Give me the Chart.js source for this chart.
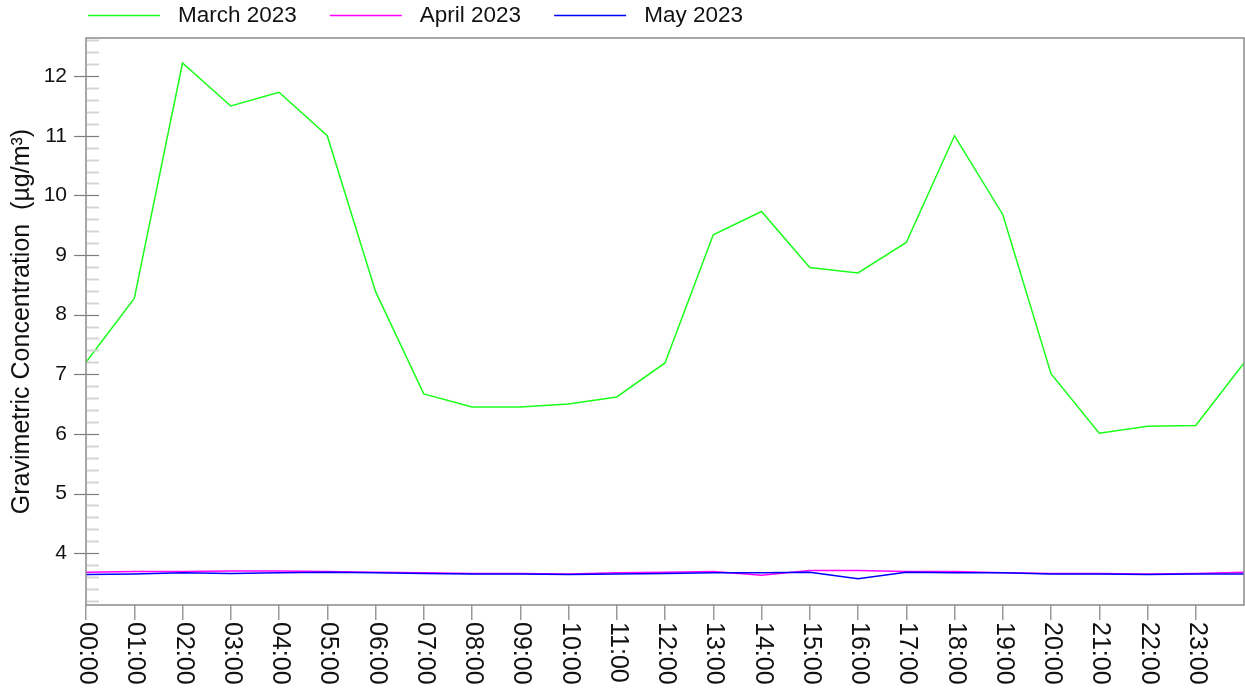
<!DOCTYPE html>
<html>
<head>
<meta charset="utf-8">
<script src="https://cdn.jsdelivr.net/npm/chart.js@4"></script>
<style>
  body { margin: 0; background: #fff; }
  canvas { display: block; }
</style>
</head>
<body>
<canvas id="myChart" width="1245" height="690"></canvas>
<script>
// hourly profile, last point wraps round to 00:00
const hourPos = [0, 1, 2, 3, 4, 5, 6, 7, 8, 9, 10, 11, 12, 13, 14, 15, 16, 17, 18, 19, 20, 21, 22, 23, 24];
const hourLabels = ["00:00", "01:00", "02:00", "03:00", "04:00", "05:00", "06:00", "07:00", "08:00", "09:00", "10:00", "11:00",
  "12:00", "13:00", "14:00", "15:00", "16:00", "17:00", "18:00", "19:00", "20:00", "21:00", "22:00", "23:00"];
const march = [7.20, 8.27, 12.22, 11.50, 11.73, 11.00, 8.39, 6.67, 6.45, 6.45, 6.50, 6.62, 7.19, 9.34, 9.73, 8.79, 8.70, 9.21, 11.00, 9.68, 7.01, 6.01, 6.13, 6.14, 7.19];
const april = [3.68, 3.69, 3.69, 3.70, 3.70, 3.69, 3.68, 3.67, 3.66, 3.66, 3.65, 3.67, 3.68, 3.69, 3.63, 3.71, 3.71, 3.69, 3.69, 3.67, 3.66, 3.66, 3.65, 3.66, 3.68];
const may = [3.64, 3.65, 3.67, 3.66, 3.67, 3.68, 3.67, 3.66, 3.65, 3.65, 3.64, 3.65, 3.66, 3.67, 3.67, 3.68, 3.57, 3.68, 3.67, 3.67, 3.65, 3.65, 3.64, 3.65, 3.65];
const yTicks = [4, 5, 6, 7, 8, 9, 10, 11, 12];
const yMin = 3.13;
const yMax = 12.64;

const FONT = "'Liberation Sans', Arial, sans-serif";

// frame, tick marks, rotated hour labels and the legend
const decor = {
  id: "decor",
  afterDraw(chart) {
    const { ctx, chartArea: a } = chart;
    const x = chart.scales.x;
    const y = chart.scales.y;
    ctx.save();

    // minor ticks every 0.2, inside the plot
    ctx.lineWidth = 2;
    ctx.strokeStyle = "#d4d4d4";
    for (let k = 16; k <= 63; k++) {
      if (k % 5 === 0) continue;
      const v = k / 5;
      if (v < yMin || v > yMax) continue;
      const py = Math.round(y.getPixelForValue(v)) + 0.5;
      ctx.beginPath();
      ctx.moveTo(a.left + 1, py);
      ctx.lineTo(a.left + 13, py);
      ctx.stroke();
    }
    // major ticks cross the axis
    ctx.lineWidth = 1.2;
    ctx.strokeStyle = "#7c7c7c";
    yTicks.forEach((v) => {
      const py = Math.round(y.getPixelForValue(v)) + 0.5;
      ctx.beginPath();
      ctx.moveTo(a.left - 12, py);
      ctx.lineTo(a.left + 13, py);
      ctx.stroke();
    });

    // hour labels, reading downwards
    ctx.fillStyle = "#111";
    ctx.font = "25px " + FONT;
    ctx.textAlign = "left";
    ctx.textBaseline = "middle";
    hourLabels.forEach((lab, i) => {
      const px = x.getPixelForValue(hourPos[i]);
      ctx.save();
      ctx.translate(px + 1, a.bottom + 17);
      ctx.rotate(Math.PI / 2);
      ctx.fillText(lab, 0, 0);
      ctx.restore();
    });

    // plot frame
    ctx.lineWidth = 1.5;
    ctx.strokeStyle = "#8a8a8a";
    ctx.strokeRect(a.left, a.top, a.right - a.left, a.bottom - a.top);

    // legend
    ctx.font = "22.5px " + FONT;
    ctx.fillStyle = "#111";
    let lx = 88;
    chart.data.datasets.forEach((ds) => {
      ctx.strokeStyle = ds.borderColor;
      ctx.lineWidth = 1.5;
      ctx.beginPath();
      ctx.moveTo(lx, 15.5);
      ctx.lineTo(lx + 72, 15.5);
      ctx.stroke();
      ctx.fillText(ds.label, lx + 90, 16);
      lx += 90 + ctx.measureText(ds.label).width + 33;
    });
    ctx.restore();
  },
};

const ctx = document.getElementById("myChart").getContext("2d");
new Chart(ctx, {
  type: "line",
  data: {
    labels: hourPos,
    datasets: [
      { label: "March 2023", data: march, borderColor: "#1aff1a", order: 3 },
      { label: "April 2023", data: april, borderColor: "#ff00ff", order: 2 },
      { label: "May 2023", data: may, borderColor: "#0000ff", order: 1 },
    ],
  },
  options: {
    responsive: false,
    animation: false,
    layout: { padding: { top: 38, right: 1, left: 0, bottom: 0 } },
    elements: {
      line: { borderWidth: 1.5, tension: 0 },
      point: { radius: 0 },
    },
    plugins: {
      legend: { display: false },
      tooltip: { enabled: false },
    },
    scales: {
      x: {
        type: "linear",
        min: 0,
        max: 24,
        afterBuildTicks: (s) => { s.ticks = hourLabels.map((_, i) => ({ value: hourPos[i] })); },
        afterFit: (s) => { s.height = 85; },
        ticks: { display: false },
        border: { display: false },
        grid: { drawOnChartArea: false, drawTicks: true, tickLength: 15, color: "#9a9a9a", lineWidth: 1.5 },
      },
      y: {
        min: yMin,
        max: yMax,
        afterBuildTicks: (s) => { s.ticks = yTicks.map((v) => ({ value: v })); },
        afterFit: (s) => { s.width = 86; },
        border: { display: false },
        grid: { display: false, drawTicks: false },
        ticks: { padding: 19, color: "#111", font: { family: FONT, size: 21 } },
        title: {
          display: true,
          text: "Gravimetric Concentration  (µg/m³)",
          color: "#111",
          padding: { top: 7, bottom: 0 },
          font: { family: FONT, size: 25 },
        },
      },
    },
  },
  plugins: [decor],
});
</script>
</body>
</html>
